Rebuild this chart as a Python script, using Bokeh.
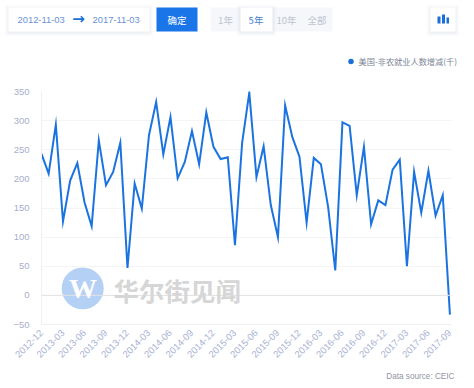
from math import pi
from bokeh.plotting import figure
from bokeh.layouts import column, row
from bokeh.models import Label, FixedTicker, Span, Range1d
from bokeh.core.properties import value
from bokeh.embed import file_html
from bokeh.resources import INLINE

months = ["2012-12","2013-01","2013-02","2013-03","2013-04","2013-05","2013-06","2013-07","2013-08","2013-09","2013-10","2013-11",
          "2013-12","2014-01","2014-02","2014-03","2014-04","2014-05","2014-06","2014-07","2014-08","2014-09","2014-10","2014-11",
          "2014-12","2015-01","2015-02","2015-03","2015-04","2015-05","2015-06","2015-07","2015-08","2015-09","2015-10","2015-11",
          "2015-12","2016-01","2016-02","2016-03","2016-04","2016-05","2016-06","2016-07","2016-08","2016-09","2016-10","2016-11",
          "2016-12","2017-01","2017-02","2017-03","2017-04","2017-05","2017-06","2017-07","2017-08","2017-09"]
values = [243,209,293,127,197,227,160,119,266,189,212,262,
          47,192,149,275,332,242,306,201,229,282,225,314,
          255,234,237,86,262,348,203,256,155,100,326,272,
          238,125,236,225,152,43,297,291,172,255,122,163,
          155,216,233,50,212,142,214,137,172,-33]
y_ticks = [-50,0,50,100,150,200,250,300,350]
legend_text = "美国-非农就业人数增减(千)"
range_labels = ["1年","5年","10年","全部"]

W, H = 474, 388
HEAD, FOOT = 80, 370   # band limits
FL, FR, FT, FB = 41, 451, 91, 324

def blank(height, y0, y1):
    f = figure(width=W, height=height, output_backend="svg", toolbar_location=None,
               x_range=Range1d(0, W), y_range=Range1d(y1, y0),
               min_border_left=0, min_border_right=0, min_border_top=0, min_border_bottom=0)
    f.axis.visible = False
    f.grid.visible = False
    f.outline_line_color = None
    return f

def box(f, l, t, r, b, color, alpha=1.0):
    f.quad(left=[l], right=[r], top=[t], bottom=[b], fill_color=color, fill_alpha=alpha, line_color=None)

def card(f, l, t, r, b):
    for g, a in ((4, .012), (3, .018), (2, .025), (1, .03)):
        box(f, l-g, t-g+1, r+g, b+g+1, "#4a5a80", a)
    box(f, l, t, r, b, "#ffffff")

def text(f, x, y, s, color, size, align="left", font="Noto Sans CJK SC", style="normal"):
    f.text(x=[x], y=[y], text=[s], text_color=color, text_font_size=f"{size}px", text_font=value(font),
           text_align=align, text_baseline="middle", text_font_style=style)

# ---- header band
h = blank(HEAD, 0, HEAD)
card(h, 8, 7, 149, 31)
text(h, 17, 19, "2012-11-03", "#6a93d4", 9.4, font="Liberation Sans")
text(h, 78, 18.5, "→", "#1a6fd8", 15, "center", "DejaVu Sans", "bold")
text(h, 92, 19, "2017-11-03", "#6a93d4", 9.4, font="Liberation Sans")
box(h, 156, 7, 197, 31, "#1a75e8")
text(h, 176.5, 19, "确定", "#ffffff", 9.5, "center")
box(h, 210, 7, 332, 31, "#f5f7fa")
card(h, 240, 7, 272, 31)
text(h, 225, 19, range_labels[0], "#c0c5d0", 9.5, "center")
text(h, 255.5, 19, range_labels[1], "#4a7fd0", 9.5, "center")
text(h, 286, 19, range_labels[2], "#c0c5d0", 9.5, "center")
text(h, 316.5, 19, range_labels[3], "#c0c5d0", 9.5, "center")
card(h, 430, 7, 455, 31)
box(h, 437, 16, 440, 23, "#1a6fd8")
box(h, 441.5, 14, 444.5, 23, "#1a6fd8")
box(h, 446, 17, 448.5, 23, "#1a6fd8")
h.scatter(x=[350.5], y=[61], size=5.5, marker="circle", fill_color="#1a6fd8", line_color=None)
text(h, 358, 60.5, legend_text, "#7d8698", 8.2)

# ---- chart band
p = figure(width=W, height=FOOT-HEAD, output_backend="svg", toolbar_location=None,
           x_range=Range1d(0, len(months)-1+0.22), y_range=Range1d(-50, 350),
           min_border_left=FL, min_border_right=W-FR, min_border_top=FT-HEAD, min_border_bottom=FOOT-FB)
p.outline_line_color = None
xs = list(range(len(months)))
p.xaxis.ticker = FixedTicker(ticks=xs[::3])
p.xaxis.major_label_overrides = {i: months[i] for i in xs[::3]}
p.xaxis.major_label_orientation = pi/4
p.xaxis.major_label_text_color = "#a9b2d4"
p.xaxis.major_label_text_font = "Liberation Sans"
p.xaxis.major_label_text_font_size = "9.5px"
p.xaxis.major_label_standoff = 1
p.xaxis.axis_line_color = "#f0f0f0"
p.xaxis.major_tick_line_color = None
p.xaxis.minor_tick_line_color = None
p.yaxis.ticker = FixedTicker(ticks=y_ticks)
p.yaxis.major_label_text_color = "#a9aecd"
p.yaxis.major_label_text_font = "Liberation Sans"
p.yaxis.major_label_text_font_size = "9.5px"
p.yaxis.major_label_standoff = 6
p.yaxis.axis_line_color = "#f0f0f0"
p.yaxis.major_tick_line_color = None
p.yaxis.minor_tick_line_color = None
p.xgrid.visible = False
p.ygrid.grid_line_color = "#f4f4f4"
p.ygrid.ticker = FixedTicker(ticks=y_ticks)
p.add_layout(Span(location=0, dimension="width", line_color="#e2e2e2", line_width=1))

p.circle(x=[5.75], y=[12], radius=21, radius_units="screen", fill_color="#b5d0f5", line_color=None)
p.add_layout(Label(x=82.5-FL, y=FB-288, x_units="screen", y_units="screen", text="W", text_color="#ffffff",
                   text_font_size="28px", text_font="Liberation Serif", text_font_style="bold",
                   text_align="center", text_baseline="middle"))
p.add_layout(Label(x=113-FL, y=FB-289, x_units="screen", y_units="screen", text="华尔街见闻", text_color="#d6d6d6",
                   text_font_size="25.5px", text_font="Noto Sans CJK SC", text_font_style="bold",
                   text_align="left", text_baseline="middle"))
p.line(xs, values, line_color="#1a73e0", line_width=2, line_join="miter")

# ---- footer band
t = blank(H-FOOT, FOOT, H)
text(t, 454, 376, "Data source: CEIC", "#8f95a3", 8.2, "right", "Liberation Sans")

page = column(row(h), row(p), row(t), spacing=0)
open("out.html", "w").write(file_html(page, INLINE))
